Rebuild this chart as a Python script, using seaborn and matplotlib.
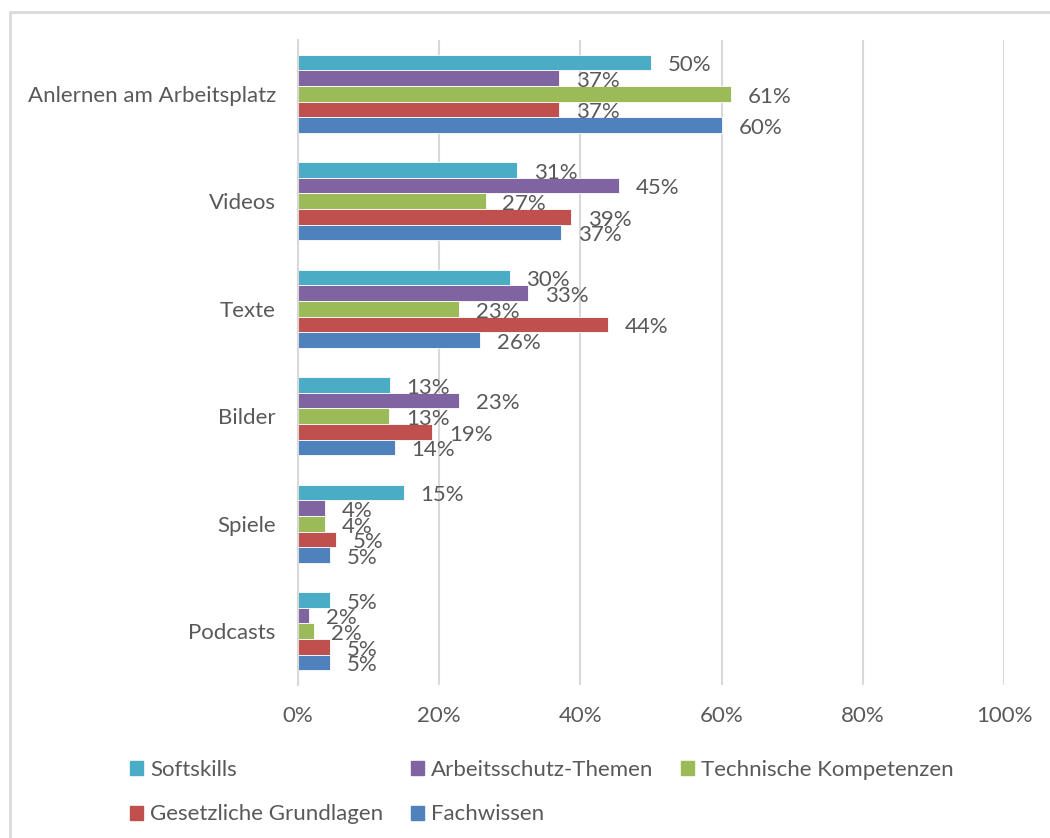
import pandas as pd
import seaborn as sns
import matplotlib.pyplot as plt
from matplotlib.patches import Rectangle, Patch

categories = ['Anlernen am Arbeitsplatz', 'Videos', 'Texte', 'Bilder', 'Spiele', 'Podcasts']
series = ['Softskills', 'Arbeitsschutz-Themen', 'Technische Kompetenzen',
          'Gesetzliche Grundlagen', 'Fachwissen']
softskills = [0.50, 0.31, 0.30, 0.13, 0.15, 0.045]
arbeitsschutz = [0.37, 0.455, 0.326, 0.228, 0.038, 0.016]
technisch = [0.613, 0.266, 0.228, 0.129, 0.038, 0.023]
gesetzlich = [0.37, 0.387, 0.439, 0.19, 0.054, 0.045]
fachwissen = [0.60, 0.373, 0.258, 0.137, 0.045, 0.045]
labels = {
    'Softskills': ['50%', '31%', '30%', '13%', '15%', '5%'],
    'Arbeitsschutz-Themen': ['37%', '45%', '33%', '23%', '4%', '2%'],
    'Technische Kompetenzen': ['61%', '27%', '23%', '13%', '4%', '2%'],
    'Gesetzliche Grundlagen': ['37%', '39%', '44%', '19%', '5%', '5%'],
    'Fachwissen': ['60%', '37%', '26%', '14%', '5%', '5%'],
}
colors = ['#4BACC6', '#8064A2', '#9BBB59', '#C0504D', '#4F81BD']

rows = []
for s, vals in zip(series, [softskills, arbeitsschutz, technisch, gesetzlich, fachwissen]):
    for c, v in zip(categories, vals):
        rows.append({'cat': c, 'serie': s, 'val': v})
df = pd.DataFrame(rows)

sns.set_style('white')
plt.rcParams['font.family'] = ['Lato', 'DejaVu Sans']
txt = '#595959'
fs = 16

fig = plt.figure(figsize=(10.5, 8.38), dpi=100)
ax = fig.add_axes([298 / 1050, 1 - 685 / 838, (1004 - 298) / 1050, (685 - 40) / 838])

sns.barplot(data=df, y='cat', x='val', hue='serie', order=categories, hue_order=series,
            palette=colors, orient='h', width=0.73, gap=0, ax=ax, legend=False,
            edgecolor='white', linewidth=0.6, saturation=1)

# data labels, like Excel slightly below the bar centre
for cont, s in zip(ax.containers, series):
    lbls = ax.bar_label(cont, labels=labels[s], padding=12, fontsize=fs, color=txt)
    for t in lbls:
        t.xyann = (t.xyann[0], -2)

ax.set_xlim(0, 1)
ax.set_ylim(5.5, -0.5)
ax.set_xticks([0, 0.2, 0.4, 0.6, 0.8, 1.0])
ax.set_xticklabels(['0%', '20%', '40%', '60%', '80%', '100%'])
ax.tick_params(axis='x', labelsize=fs, colors=txt, length=0, pad=15)
ax.tick_params(axis='y', labelsize=fs, colors=txt, length=0, pad=16)
ax.set_xlabel('')
ax.set_ylabel('')
ax.grid(axis='x', color='#D9D9D9', linewidth=1.5)
ax.set_axisbelow(True)
for side in ['top', 'right', 'bottom']:
    ax.spines[side].set_visible(False)
ax.spines['left'].set_color('#D9D9D9')
ax.spines['left'].set_linewidth(1.5)

handles = [Patch(color=c) for c in colors]
order = [0, 3, 1, 4, 2]  # column-major fill -> row 1: Soft, Arbeit, Tech
fig.legend([handles[i] for i in order], [series[i] for i in order],
           ncol=3, loc='upper left', bbox_to_anchor=(130 / 1050, 1 - 760 / 838),
           frameon=False, fontsize=fs, labelcolor=txt, handlelength=0.6,
           handleheight=0.6, handletextpad=0.3, columnspacing=1.25,
           labelspacing=1.1, borderaxespad=0, borderpad=0)

fig.patches.append(Rectangle((10 / 1050, -0.1), 1.2, 1 - 12 / 838 + 0.1,
                             transform=fig.transFigure, fill=False,
                             edgecolor='#D9D9D9', linewidth=2))

fig.savefig('out.png', dpi=100)
